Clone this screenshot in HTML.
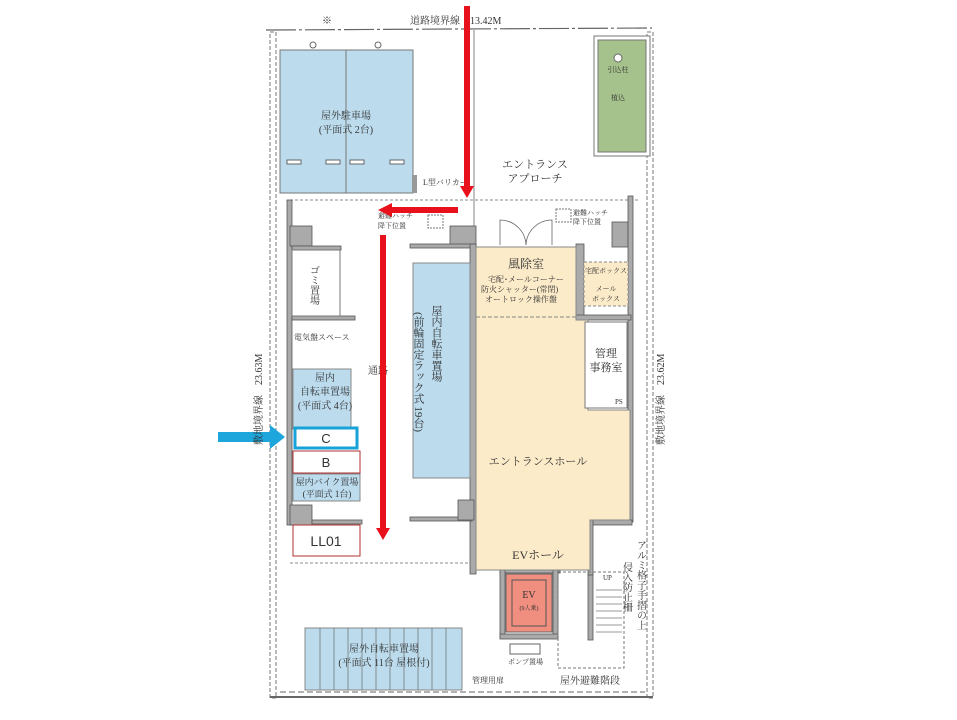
<!DOCTYPE html>
<html><head><meta charset="utf-8"><style>
html,body{margin:0;padding:0;background:#fff;}
svg{display:block;}
text{font-family:"Liberation Serif","Noto Serif CJK SC","Noto Sans CJK JP",serif;fill:#333;}
</style></head><body>
<svg width="957" height="720" viewBox="0 0 957 720" xmlns="http://www.w3.org/2000/svg">
<g stroke="#666" fill="none">
<line x1="266" y1="30" x2="652" y2="28" stroke-width="1.2" stroke-dasharray="30,3,3,3"/>
<rect x="270" y="32" width="6" height="666" stroke="#777" stroke-dasharray="4,2"/>
<rect x="647" y="32" width="6" height="666" stroke="#777" stroke-dasharray="4,2"/>
<line x1="270" y1="697" x2="653" y2="697" stroke-width="2"/>
<line x1="280" y1="692" x2="645" y2="692" stroke-dasharray="6,3"/>
<line x1="290" y1="200" x2="638" y2="200" stroke-dasharray="3,2" stroke-width="0.8"/>
<line x1="474" y1="30" x2="474" y2="245" stroke-width="0.8"/>
<line x1="290" y1="563" x2="474" y2="563" stroke-dasharray="3,2" stroke-width="0.8"/>
</g>
<text x="322" y="24" font-size="10">※</text>
<text x="410" y="24" font-size="10">道路境界線　13.42M</text>
<rect x="280" y="50" width="133" height="143" fill="#bcdcee" stroke="#777"/>
<line x1="346" y1="50" x2="346" y2="193" stroke="#777"/>
<g fill="#fff" stroke="#666"><rect x="287" y="160" width="14" height="4"/><rect x="326" y="160" width="14" height="4"/><rect x="350" y="160" width="14" height="4"/><rect x="390" y="160" width="14" height="4"/></g>
<circle cx="313" cy="45" r="3" fill="none" stroke="#666"/><circle cx="378" cy="45" r="3" fill="none" stroke="#666"/>
<text x="346" y="119" font-size="10" text-anchor="middle">屋外駐車場</text>
<text x="346" y="133" font-size="10" text-anchor="middle">(平面式 2台)</text>
<text x="423" y="185" font-size="8">L型バリカー</text>
<rect x="412" y="175" width="5" height="18" fill="#999"/>
<rect x="594" y="36" width="56" height="120" fill="#fff" stroke="#777"/>
<rect x="598" y="40" width="48" height="112" fill="#a6c28c" stroke="#777"/>
<circle cx="618" cy="58" r="4" fill="#fff" stroke="#666"/>
<text x="618" y="72" font-size="7" text-anchor="middle">引込柱</text>
<text x="618" y="100" font-size="7" text-anchor="middle">植込</text>
<text x="535" y="168" font-size="11" text-anchor="middle">エントランス</text>
<text x="535" y="182" font-size="11" text-anchor="middle">アプローチ</text>
<g stroke="#777" fill="none" stroke-dasharray="2,1"><rect x="428" y="215" width="15" height="13"/><rect x="556" y="209" width="15" height="13"/></g>
<text x="378" y="218" font-size="7">避難ハッチ</text><text x="378" y="228" font-size="7">降下位置</text>
<text x="573" y="215" font-size="7">避難ハッチ</text><text x="573" y="224" font-size="7">降下位置</text>
<g fill="#aaa" stroke="#555" stroke-width="0.8">
<rect x="287" y="200" width="5" height="325"/>
<rect x="290" y="226" width="22" height="20"/>
<rect x="292" y="246" width="49" height="4"/>
<rect x="292" y="316" width="63" height="4"/>
<rect x="290" y="505" width="22" height="20"/>
<rect x="312" y="520" width="50" height="4"/>
<rect x="450" y="226" width="26" height="20"/>
<rect x="410" y="244" width="66" height="4"/>
<rect x="470" y="244" width="6" height="330"/>
<rect x="410" y="517" width="62" height="4"/>
<rect x="458" y="500" width="16" height="20"/>
<rect x="612" y="222" width="16" height="25"/>
<rect x="628" y="196" width="5" height="326"/>
<rect x="576" y="244" width="8" height="80"/>
<rect x="575" y="315" width="56" height="5"/>
<rect x="588" y="520" width="44" height="5"/>
<rect x="588" y="520" width="5" height="55"/>
<rect x="500" y="568" width="60" height="5"/>
<rect x="500" y="568" width="5" height="70"/>
<rect x="553" y="568" width="5" height="70"/>
<rect x="500" y="634" width="58" height="5"/>
<rect x="588" y="575" width="5" height="65"/>
</g>
<rect x="292" y="250" width="48" height="66" fill="#fff" stroke="#777"/>
<text x="313" y="265" font-size="10" writing-mode="tb">ゴミ置場</text>
<text x="294" y="340" font-size="8">電気盤スペース</text>
<rect x="293" y="369" width="58" height="60" fill="#bcdcee" stroke="#888"/>
<rect x="293" y="474" width="67" height="27" fill="#bcdcee" stroke="#888"/>
<text x="325" y="381" font-size="10" text-anchor="middle">屋内</text>
<text x="325" y="395" font-size="10" text-anchor="middle">自転車置場</text>
<text x="325" y="409" font-size="10" text-anchor="middle">(平面式 4台)</text>
<text x="327" y="485" font-size="9" text-anchor="middle">屋内バイク置場</text>
<text x="327" y="497" font-size="9" text-anchor="middle">(平面式 1台)</text>
<text x="368" y="374" font-size="10">通路</text>
<rect x="295" y="428" width="62" height="20" fill="#fff" stroke="#17a2d8" stroke-width="3"/>
<text x="326" y="443" font-size="13" text-anchor="middle" style="font-family:'Liberation Sans',sans-serif">C</text>
<rect x="293" y="451" width="67" height="22" fill="#fff" stroke="#b03030" stroke-width="1"/>
<text x="326" y="467" font-size="13" text-anchor="middle" style="font-family:'Liberation Sans',sans-serif">B</text>
<rect x="293" y="525" width="67" height="31" fill="#fff" stroke="#b03030" stroke-width="1"/>
<text x="326" y="546" font-size="14" text-anchor="middle" style="font-family:'Liberation Sans',sans-serif">LL01</text>
<polygon points="218,432 270,432 270,425 285,437 270,449 270,442 218,442" fill="#1ca6dc"/>
<text x="262" y="445" font-size="10" transform="rotate(-90 262 445)">敷地境界線　23.63M</text>
<text x="664" y="445" font-size="10" transform="rotate(-90 664 445)">敷地境界線　23.62M</text>
<rect x="413" y="263" width="57" height="215" fill="#bcdcee" stroke="#888"/>
<text x="436" y="305" font-size="11" writing-mode="tb">屋内自転車置場</text>
<text x="418" y="312" font-size="11" writing-mode="tb">(前輪固定ラック式 19台)</text>
<path d="M476 247 H576 V320 H588 V410 H630 V520 H590 V570 H476 Z" fill="#fcebc9" stroke="#888"/>
<line x1="476" y1="317" x2="576" y2="317" stroke="#888" stroke-dasharray="4,2"/>
<rect x="584" y="262" width="44" height="44" fill="#fcebc9" stroke="#888" stroke-dasharray="3,2"/>
<text x="606" y="273" font-size="7" text-anchor="middle">宅配ボックス</text>
<text x="606" y="291" font-size="7" text-anchor="middle">メール</text>
<text x="606" y="301" font-size="7" text-anchor="middle">ボックス</text>
<text x="508" y="268" font-size="12">風除室</text>
<text x="488" y="282" font-size="8">宅配･メールコーナー</text>
<text x="481" y="292" font-size="8">防火シャッター(常閉)</text>
<text x="485" y="302" font-size="8">オートロック操作盤</text>
<rect x="585" y="322" width="42" height="86" fill="#fff" stroke="#777"/>
<text x="606" y="357" font-size="11" text-anchor="middle">管理</text>
<text x="606" y="371" font-size="11" text-anchor="middle">事務室</text>
<text x="615" y="404" font-size="7">PS</text>
<text x="538" y="465" font-size="11" text-anchor="middle">エントランスホール</text>
<text x="538" y="559" font-size="12" text-anchor="middle">EVホール</text>
<g fill="none" stroke="#666" stroke-width="0.8"><path d="M500 245 V220 A26 26 0 0 1 526 245"/><path d="M552 245 V220 A26 26 0 0 0 526 245"/></g>
<rect x="506" y="574" width="46" height="58" fill="#f08f80" stroke="#666"/>
<rect x="512" y="580" width="34" height="46" fill="none" stroke="#555"/>
<text x="529" y="598" font-size="10" text-anchor="middle">EV</text>
<text x="529" y="610" font-size="6" text-anchor="middle">(9人乗)</text>
<rect x="510" y="644" width="30" height="10" fill="#fff" stroke="#666"/>
<text x="508" y="664" font-size="7">ポンプ置場</text>
<text x="472" y="683" font-size="8">管理用扉</text>
<g stroke="#777" stroke-width="0.7">
<line x1="596" y1="590" x2="622" y2="590"/><line x1="596" y1="597" x2="622" y2="597"/><line x1="596" y1="604" x2="622" y2="604"/><line x1="596" y1="611" x2="622" y2="611"/><line x1="596" y1="618" x2="622" y2="618"/><line x1="596" y1="625" x2="622" y2="625"/><line x1="596" y1="632" x2="622" y2="632"/>
</g>
<rect x="558" y="572" width="66" height="96" fill="none" stroke="#777" stroke-dasharray="3,2"/>
<text x="603" y="580" font-size="7">UP</text>
<text x="560" y="684" font-size="10">屋外避難階段</text>
<text x="640" y="540" font-size="10" writing-mode="tb">アルミ格子手摺の上</text>
<text x="626" y="562" font-size="10" writing-mode="tb">侵入防止柵</text>
<rect x="305" y="628" width="157" height="62" fill="#bcdcee" stroke="#888"/>
<g stroke="#777" stroke-width="0.8">
<line x1="320" y1="628" x2="320" y2="690"/><line x1="334" y1="628" x2="334" y2="690"/><line x1="348" y1="628" x2="348" y2="690"/><line x1="362" y1="628" x2="362" y2="690"/><line x1="376" y1="628" x2="376" y2="690"/><line x1="390" y1="628" x2="390" y2="690"/><line x1="404" y1="628" x2="404" y2="690"/><line x1="418" y1="628" x2="418" y2="690"/><line x1="432" y1="628" x2="432" y2="690"/><line x1="446" y1="628" x2="446" y2="690"/>
</g>
<text x="384" y="652" font-size="10" text-anchor="middle">屋外自転車置場</text>
<text x="384" y="666" font-size="10" text-anchor="middle">(平面式 11台 屋根付)</text>
<g fill="#e8101a">
<rect x="464" y="6" width="6" height="182"/><polygon points="460,186 474,186 467,198"/>
<rect x="390" y="207" width="68" height="6"/><polygon points="392,203 392,217 378,210"/>
<rect x="380" y="235" width="6" height="295"/><polygon points="376,528 390,528 383,540"/>
</g>
</svg>
</body></html>
